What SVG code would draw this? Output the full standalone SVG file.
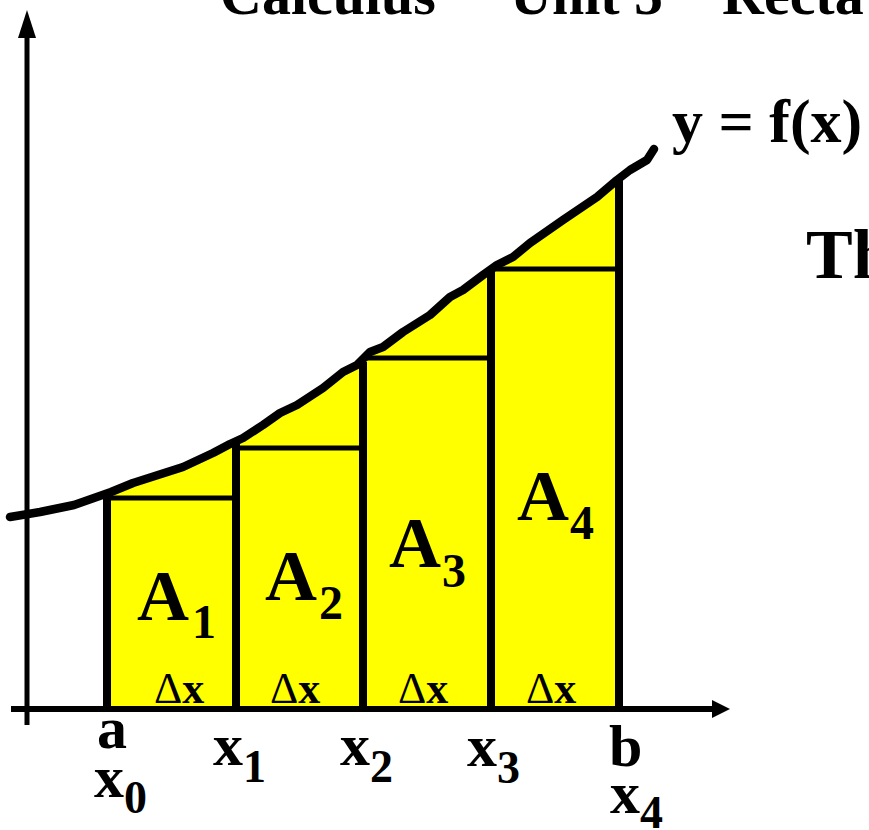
<svg xmlns="http://www.w3.org/2000/svg" width="869" height="830" viewBox="0 0 869 830">
<style>
.t{font-family:"Liberation Serif","Times New Roman",serif;font-weight:bold;fill:#000}
.lbl{font-size:60px}
.sub{font-size:46px}
.area{font-size:72px}
.asub{font-size:48px}
.dx{font-size:44px}
.delta{font-weight:normal}
.ax{stroke:#000;fill:none}
.vl{stroke:#000;stroke-width:8;fill:none}
.hl{stroke:#000;stroke-width:5;fill:none}
</style>
<rect width="869" height="830" fill="#fff"/>
<g id="title" class="t" font-size="58">
<text x="220" y="14">Calculus</text>
<text x="510" y="14">Unit 5</text>
<text x="722" y="14">Recta</text>
</g>
<text id="side-text" class="t" font-size="70" x="806" y="278">Th</text>
<g id="region">
<polygon fill="#ffff00" points="107,709 107,493 111,492 133,483 183,467 213,453 230,444 243,438 263,425 280,413 297,405 323,388 343,372 357,365 370,352 383,347 403,332 430,315 450,297 463,290 483,275 497,265 513,257 530,243 563,220 597,197 617,180 619,179 619,709"/>
</g>
<g id="rectangles">
<line class="hl" x1="107" y1="498" x2="236" y2="498"/>
<line class="hl" x1="236" y1="448" x2="363" y2="448"/>
<line class="hl" x1="363" y1="358" x2="491" y2="358"/>
<line class="hl" x1="491" y1="269" x2="619" y2="269"/>
<line class="vl" x1="107" y1="709" x2="107" y2="494"/>
<line class="vl" x1="236" y1="709" x2="236" y2="444"/>
<line class="vl" x1="363" y1="709" x2="363" y2="362"/>
<line class="vl" x1="491" y1="709" x2="491" y2="270"/>
<line class="vl" x1="619" y1="709" x2="619" y2="180"/>
</g>
<g id="axes">
<line class="ax" stroke-width="5" x1="27" y1="725" x2="27" y2="34"/>
<polygon points="27,10 18,38 36,38" fill="#000"/>
<line class="ax" stroke-width="6" x1="11" y1="709" x2="715" y2="709"/>
<polygon points="730,709 712,700 712,718" fill="#000"/>
</g>
<g id="curve">
<polyline fill="none" stroke="#000" stroke-width="8.5" stroke-linejoin="round" stroke-linecap="round" points="10,517 40,512 74,505 111,492 133,483 183,467 213,453 230,444 243,438 263,425 280,413 297,405 323,388 343,372 357,365 370,352 383,347 403,332 430,315 450,297 463,290 483,275 497,265 513,257 530,243 563,220 597,197 617,180 630,170 647,160 654,149"/>
<text class="t" font-size="62" x="672" y="142">y = f(x)</text>
</g>
<g id="area-labels" class="t">
<text class="area" x="137" y="620">A<tspan class="asub" dx="3" dy="18">1</tspan></text>
<text class="area" x="265" y="600">A<tspan class="asub" dx="2" dy="19">2</tspan></text>
<text class="area" x="389" y="567">A<tspan class="asub" dx="1" dy="20">3</tspan></text>
<text class="area" x="517" y="520">A<tspan class="asub" dx="1" dy="19">4</tspan></text>
</g>
<g id="width-labels" class="t dx">
<text x="154" y="703"><tspan class="delta">Δ</tspan>x</text>
<text x="270" y="703"><tspan class="delta">Δ</tspan>x</text>
<text x="398" y="703"><tspan class="delta">Δ</tspan>x</text>
<text x="526" y="703"><tspan class="delta">Δ</tspan>x</text>
</g>
<g id="axis-labels" class="t lbl">
<text x="97" y="748">a</text>
<text x="94" y="797">x<tspan class="sub" dy="16">0</tspan></text>
<text x="213" y="765">x<tspan class="sub" dy="17">1</tspan></text>
<text x="340" y="765">x<tspan class="sub" dy="17">2</tspan></text>
<text x="467" y="766">x<tspan class="sub" dy="17">3</tspan></text>
<text x="609" y="766">b</text>
<text x="610" y="813">x<tspan class="sub" dy="15">4</tspan></text>
</g>
</svg>
